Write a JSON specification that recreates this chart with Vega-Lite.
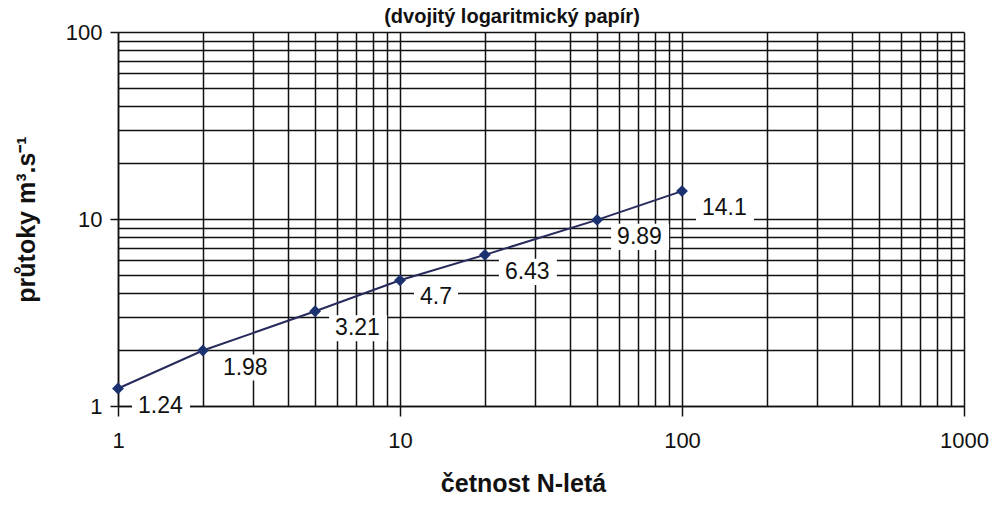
{
  "$schema": "https://vega.github.io/schema/vega-lite/v6.json",
  "autosize": "none",
  "width": 846,
  "height": 374,
  "padding": {"left": 118, "top": 32, "right": 31, "bottom": 100},
  "background": "white",
  "title": {
    "text": "(dvojitý logaritmický papír)",
    "font": "Liberation Sans",
    "fontSize": 20,
    "fontWeight": "bold",
    "color": "#111",
    "anchor": "middle",
    "offset": 0,
    "dy": 6,
    "dx": -29
  },
  "config": {
    "view": {"stroke": null},
    "font": "Liberation Sans",
    "axis": {
      "gridColor": "#111",
      "gridOpacity": 1,
      "gridWidth": 1.5,
      "domainColor": "#111",
      "domainWidth": 1.5,
      "tickColor": "#111",
      "tickWidth": 1.5,
      "labelFont": "Liberation Sans",
      "labelFontSize": 22,
      "labelColor": "#111",
      "labelOverlap": false,
      "labelFlush": false,
      "labelBound": false,
      "titleFont": "Liberation Sans",
      "titleFontSize": 25,
      "titleFontWeight": "bold",
      "titleColor": "#111"
    }
  },
  "data": {
    "values": [
      {"n": 1, "q": 1.24},
      {"n": 2, "q": 1.98},
      {"n": 5, "q": 3.21},
      {"n": 10, "q": 4.7},
      {"n": 20, "q": 6.43},
      {"n": 50, "q": 9.89},
      {"n": 100, "q": 14.1}
    ]
  },
  "encoding": {
    "x": {
      "field": "n",
      "type": "quantitative",
      "scale": {"type": "log", "domain": [1, 1000], "nice": false},
      "axis": {
        "title": "četnost N-letá",
        "values": [1,2,3,4,5,6,7,8,9,10,20,30,40,50,60,70,80,90,100,200,300,400,500,600,700,800,900,1000],
        "labelExpr": "indexof([1,10,100,1000], datum.value) >= 0 ? format(datum.value, 'd') : ''",
        "tickSize": 10,
        "labelPadding": 14,
        "titlePadding": 20,
        "titleX": 405,
        "titleAlign": "center",
        "tickOpacity": {"condition": {"test": "indexof([1,10,100,1000], datum.value) >= 0", "value": 1}, "value": 0}
      }
    },
    "y": {
      "field": "q",
      "type": "quantitative",
      "scale": {"type": "log", "domain": [1, 100], "nice": false},
      "axis": {
        "title": "průtoky m³.s⁻¹",
        "values": [1,2,3,4,5,6,7,8,9,10,20,30,40,50,60,70,80,90,100],
        "labelExpr": "indexof([1,10,100], datum.value) >= 0 ? format(datum.value, 'd') : ''",
        "tickSize": 8,
        "labelPadding": 8,
        "titlePadding": 26,
        "tickOpacity": {"condition": {"test": "indexof([1,10,100], datum.value) >= 0", "value": 1}, "value": 0}
      }
    }
  },
  "layer": [
    {
      "transform": [{"filter": "datum.q != 4.7"}],
      "mark": {
        "type": "point",
        "shape": "M-1,-0.45L1,-0.45L1,0.45L-1,0.45Z",
        "size": 3364,
        "filled": true,
        "fill": "white",
        "opacity": 1,
        "strokeWidth": 0,
        "xOffset": 43,
        "yOffset": 17
      }
    },
    {
      "transform": [{"filter": "datum.q == 4.7"}],
      "mark": {
        "type": "point",
        "shape": "M-1,-0.59L1,-0.59L1,0.59L-1,0.59Z",
        "size": 1936,
        "filled": true,
        "fill": "white",
        "opacity": 1,
        "strokeWidth": 0,
        "xOffset": 36,
        "yOffset": 17
      }
    },
    {
      "mark": {"type": "line", "color": "#262b5c", "strokeWidth": 2}
    },
    {
      "mark": {"type": "point", "shape": "diamond", "filled": true, "color": "#1c3170", "size": 140, "opacity": 1}
    },
    {
      "mark": {"type": "text", "align": "left", "baseline": "middle", "dx": 20, "dy": 17, "fontSize": 23, "color": "#111", "font": "Liberation Sans"},
      "encoding": {"text": {"field": "q", "type": "quantitative", "format": "~g"}}
    }
  ]
}
